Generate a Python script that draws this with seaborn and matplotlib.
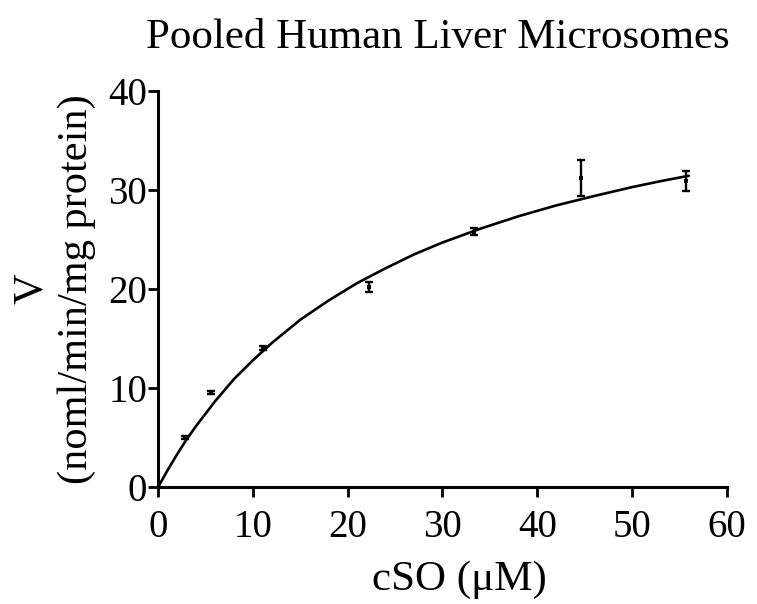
import matplotlib
matplotlib.use("Agg")
import matplotlib.pyplot as plt
import seaborn as sns
import pandas as pd

conc = [2.8, 5.6, 11.1, 22.2, 33.3, 44.6, 55.7]
v_mean = [5.0, 9.5, 14.0, 20.2, 25.8, 31.2, 30.9]
v_err = [0.15, 0.15, 0.2, 0.5, 0.35, 1.8, 1.0]

# fitted curve
curve_x = [0, 1, 2, 3, 4, 6, 8, 10, 12, 15, 18, 21, 24, 27, 30, 34, 38, 42, 46, 50, 53, 56]
curve_v = [0, 1.7, 3.3, 4.8, 6.15, 8.65, 10.9, 12.8, 14.55, 16.9, 18.85, 20.6, 22.1,
           23.5, 24.7, 26.1, 27.35, 28.45, 29.4, 30.3, 30.9, 31.45]

sns.set_style("ticks")
plt.rcParams["font.family"] = ["Liberation Serif", "DejaVu Serif"]
plt.rcParams["text.color"] = "black"
plt.rcParams["axes.labelcolor"] = "black"

pts = pd.DataFrame({"cSO": conc, "V": v_mean})
fit = pd.DataFrame({"cSO": curve_x, "V": curve_v})

fig = plt.figure(figsize=(7.57, 6.04), dpi=100)
ax = fig.add_axes([0.209, 0.194, 0.751, 0.655])

sns.lineplot(data=fit, x="cSO", y="V", ax=ax, color="black", linewidth=1.9)
ax.errorbar(conc, v_mean, yerr=v_err, fmt="none", ecolor="black",
            elinewidth=1.7, capsize=3, capthick=1.7)
sns.scatterplot(data=pts, x="cSO", y="V", ax=ax, color="black", marker="s",
                s=9, edgecolor="black", linewidth=0, zorder=5)

ax.set_xlim(0, 60)
ax.set_ylim(0, 40)
ax.set_xticks([0, 10, 20, 30, 40, 50, 60])
ax.set_yticks([0, 10, 20, 30, 40])
for side in ["top", "right"]:
    ax.spines[side].set_visible(False)
for side in ["left", "bottom"]:
    ax.spines[side].set_linewidth(2.2)
    ax.spines[side].set_color("black")
ax.tick_params(axis="both", direction="out", length=7, width=2, colors="black",
               labelsize=28)
ax.tick_params(axis="y", pad=1)
ax.tick_params(axis="x", pad=9)

ax.set_xlabel("cSO (\u03bcM)", fontsize=31)
ax.xaxis.set_label_coords(0.53, -0.185)
ax.set_ylabel("V\n(noml/min/mg protein)", fontsize=30.5, labelpad=9,
              linespacing=1.2)
fig.text(0.578, 0.938, "Pooled Human Liver Microsomes", ha="center", va="center",
         fontsize=31)

fig.savefig("out.png", dpi=100)
